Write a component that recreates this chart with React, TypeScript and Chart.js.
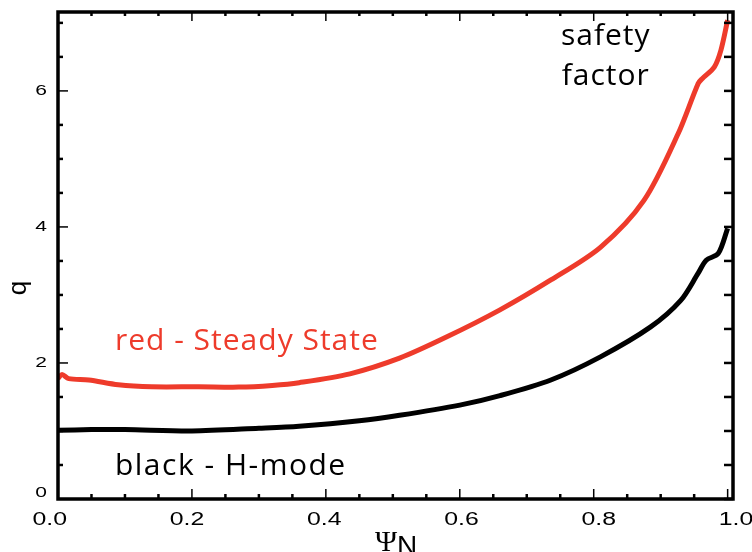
import React, { useEffect, useRef } from 'react';
import { Chart, registerables } from 'chart.js';

Chart.register(...registerables);

// Steady State (red) safety factor profile
const psiRed = [0, 0.006, 0.016, 0.046, 0.09, 0.14, 0.21, 0.27, 0.32, 0.36, 0.436, 0.51, 0.58, 0.66, 0.736, 0.81, 0.875, 0.926, 0.956, 0.962, 0.98, 0.99, 1.0];
const qRed = [1.77, 1.83, 1.77, 1.75, 1.68, 1.65, 1.65, 1.645, 1.67, 1.71, 1.84, 2.07, 2.38, 2.78, 3.22, 3.7, 4.39, 5.37, 6.11, 6.18, 6.35, 6.6, 7.04];

// H-mode (black) safety factor profile
const psiBlack = [0, 0.05, 0.1, 0.2, 0.3, 0.36, 0.45, 0.51, 0.6, 0.66, 0.736, 0.81, 0.885, 0.93, 0.956, 0.968, 0.986, 1.0];
const qBlack = [1.01, 1.02, 1.02, 1.0, 1.04, 1.07, 1.15, 1.23, 1.38, 1.52, 1.75, 2.09, 2.53, 2.92, 3.32, 3.51, 3.61, 3.98];

// Axis tick values and labels
const xMajorTicks = [0, 0.2, 0.4, 0.6, 0.8, 1.0];
const xTickLabels = ['0.0', '0.2', '0.4', '0.6', '0.8', '1.0'];
const xMinorTicks = [0.05, 0.1, 0.15, 0.25, 0.3, 0.35, 0.45, 0.5, 0.55, 0.65, 0.7, 0.75, 0.85, 0.9, 0.95];
const yMajorTicks = [0, 2, 4, 6];
const yTickLabels = ['0', '2', '4', '6'];
const yMinorTicks = [0.5, 1, 1.5, 2.5, 3, 3.5, 4.5, 5, 5.5, 6.5, 7];

const RED = '#ee3b2b';

const framePlugin = {
  id: 'framePlugin',
  afterDraw(chart: any) {
    const { ctx, chartArea: a, scales } = chart;
    const x = scales.x;
    const y = scales.y;
    ctx.save();
    ctx.strokeStyle = '#000';
    ctx.lineCap = 'butt';
    const tick = (x1: number, y1: number, x2: number, y2: number, w: number) => {
      ctx.lineWidth = w;
      ctx.beginPath();
      ctx.moveTo(x1, y1);
      ctx.lineTo(x2, y2);
      ctx.stroke();
    };
    xMinorTicks.forEach((v) => {
      const px = x.getPixelForValue(v);
      tick(px, a.bottom, px, a.bottom - 5, 2.5);
      tick(px, a.top, px, a.top + 4, 2.5);
    });
    xMajorTicks.forEach((v) => {
      const px = x.getPixelForValue(v);
      tick(px, a.bottom, px, a.bottom - 10, 1.5);
      tick(px, a.top, px, a.top + 9, 1.5);
    });
    yMinorTicks.forEach((v) => {
      const py = y.getPixelForValue(v);
      tick(a.left, py, a.left + 5, py, 2.5);
      tick(a.right, py, a.right - 9, py, 2.5);
    });
    yMajorTicks.forEach((v) => {
      const py = y.getPixelForValue(v);
      tick(a.left, py, a.left + 10, py, 1.5);
      tick(a.right, py, a.right - 9, py, 2.5);
    });
    ctx.lineWidth = 3.5;
    ctx.strokeRect(a.left, a.top, a.right - a.left, a.bottom - a.top);

    // Tick labels (wide sans, as in the original)
    ctx.fillStyle = '#000';
    ctx.textBaseline = 'middle';
    ctx.textAlign = 'center';
    ctx.font = '18px "Liberation Sans"';
    xMajorTicks.forEach((v, i) => {
      const px = x.getPixelForValue(v) + (v - 0.5) * 16.6;
      ctx.save();
      ctx.translate(px, a.bottom + 21);
      ctx.scale(1.38, 1);
      ctx.fillText(xTickLabels[i], 0, 0);
      ctx.restore();
    });
    ctx.textAlign = 'right';
    ctx.font = '15px "Liberation Sans"';
    yMajorTicks.forEach((v, i) => {
      const py = y.getPixelForValue(v) - (v === 0 ? 6 : 0);
      ctx.save();
      ctx.translate(a.left - 11, py);
      ctx.scale(1.4, 1);
      ctx.fillText(yTickLabels[i], 0, 0);
      ctx.restore();
    });

    // Axis titles
    ctx.save();
    ctx.translate(26, 288);
    ctx.rotate(-Math.PI / 2);
    ctx.font = '26px "Liberation Sans"';
    ctx.textAlign = 'center';
    ctx.textBaseline = 'alphabetic';
    ctx.fillText('q', 0, 0);
    ctx.restore();

    ctx.textAlign = 'left';
    ctx.textBaseline = 'alphabetic';
    ctx.font = '30px "Liberation Serif"';
    ctx.fillText('\u03A8', 375, 551);
    ctx.font = '28px "Liberation Sans"';
    ctx.fillText('N', 397, 555);

    // Annotations
    ctx.font = '30px "Open Sans"';
    (ctx as any).letterSpacing = '1px';
    ctx.textAlign = 'center';
    ctx.fillText('safety', x.getPixelForValue(0.818), y.getPixelForValue(6.67));
    ctx.fillText('factor', x.getPixelForValue(0.818), y.getPixelForValue(6.08));
    ctx.textAlign = 'left';
    ctx.fillStyle = RED;
    ctx.fillText('red - Steady State', x.getPixelForValue(0.085), y.getPixelForValue(2.19));
    ctx.fillStyle = '#000';
    (ctx as any).letterSpacing = '1.5px';
    ctx.fillText('black - H-mode', x.getPixelForValue(0.085), y.getPixelForValue(0.35));
    (ctx as any).letterSpacing = '0px';
    ctx.restore();
  },
};

export default function App() {
  const canvasRef = useRef<HTMLCanvasElement | null>(null);

  useEffect(() => {
    if (!canvasRef.current) return;
    const chart = new Chart(canvasRef.current, {
      type: 'line',
      data: {
        datasets: [
          {
            label: 'red - Steady State',
            data: psiRed.map((p, i) => ({ x: p, y: qRed[i] })),
            borderColor: RED,
            borderWidth: 5,
            pointRadius: 0,
            fill: false,
            tension: 0.3,
          },
          {
            label: 'black - H-mode',
            data: psiBlack.map((p, i) => ({ x: p, y: qBlack[i] })),
            borderColor: '#000',
            borderWidth: 5,
            pointRadius: 0,
            fill: false,
            tension: 0.3,
          },
        ],
      },
      options: {
        animation: false,
        responsive: false,
        maintainAspectRatio: false,
        layout: { padding: { top: 12, right: 19, left: 0, bottom: 0 } },
        plugins: { legend: { display: false }, tooltip: { enabled: false } },
        scales: {
          x: {
            type: 'linear',
            min: 0,
            max: 1.008,
            afterFit: (s: any) => {
              s.height = 53;
            },
            grid: { display: false, drawTicks: false },
            border: { display: false },
            ticks: { display: false, stepSize: 0.2, includeBounds: false },
          },
          y: {
            type: 'linear',
            min: 0,
            max: 7.16,
            afterFit: (s: any) => {
              s.width = 58;
            },
            grid: { display: false, drawTicks: false },
            border: { display: false },
            ticks: { display: false, stepSize: 2, includeBounds: false },
          },
        },
      } as any,
      plugins: [framePlugin],
    });
    return () => chart.destroy();
  }, []);

  return (
    <div style={{ position: 'fixed', left: 0, top: 0, width: 752, height: 552, background: '#fff' }}>
      <canvas ref={canvasRef} width={752} height={552} />
    </div>
  );
}
